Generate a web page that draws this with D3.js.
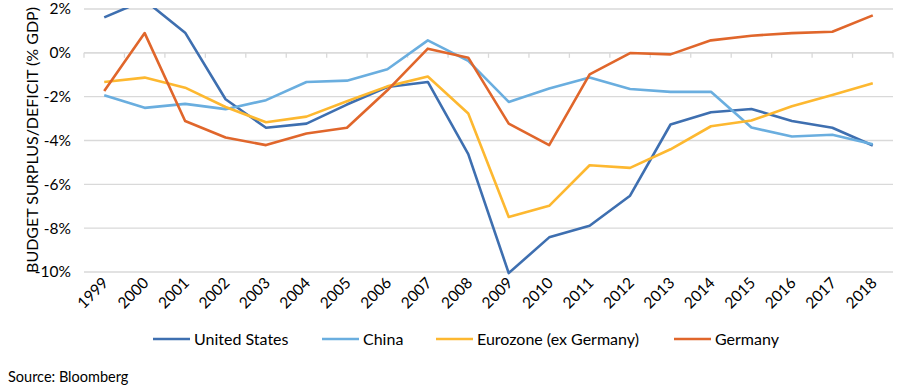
<!DOCTYPE html>
<html><head><meta charset="utf-8">
<script src="https://cdn.jsdelivr.net/npm/d3@7/dist/d3.min.js"></script>
<style>body{margin:0;background:#fff}svg{display:block}</style>
</head><body>
<svg id="c" width="900" height="392"></svg>
<script>
const years = ["1999","2000","2001","2002","2003","2004","2005","2006","2007","2008","2009","2010","2011","2012","2013","2014","2015","2016","2017","2018"];
const unitedStates = [1.62,2.4,0.92,-2.12,-3.42,-3.23,-2.36,-1.56,-1.33,-4.62,-10.05,-8.42,-7.89,-6.52,-3.27,-2.71,-2.56,-3.11,-3.42,-4.23];
const china = [-1.94,-2.51,-2.33,-2.57,-2.16,-1.33,-1.27,-0.75,0.57,-0.37,-2.24,-1.63,-1.13,-1.65,-1.78,-1.78,-3.41,-3.82,-3.74,-4.17];
const eurozone = [-1.33,-1.13,-1.59,-2.47,-3.17,-2.91,-2.21,-1.53,-1.08,-2.77,-7.49,-6.98,-5.13,-5.25,-4.40,-3.35,-3.09,-2.44,-1.92,-1.39];
const germany = [-1.74,0.90,-3.11,-3.86,-4.21,-3.68,-3.42,-1.71,0.19,-0.22,-3.23,-4.21,-0.98,-0.01,-0.07,0.57,0.78,0.90,0.96,1.71];
const yTicks = [2,0,-2,-4,-6,-8,-10];
const seriesNames = ["United States","China","Eurozone (ex Germany)","Germany"];
const seriesColors = ["#3E6FB0","#6AAEDF","#FDB830","#E0662B"];
const seriesData = [unitedStates, china, eurozone, germany];

const svg = d3.select("#c");
const font = "Lato, 'Open Sans', sans-serif";
const pLeft = 84, pRight = 893, pTop = 9, pBottom = 272;

const x = d3.scaleBand().domain(years).range([pLeft, pRight]).padding(0);
const y = d3.scaleLinear().domain([-10, 2]).range([pBottom, pTop]);

// gridlines
svg.append("g").selectAll("line").data(yTicks).join("line")
  .attr("x1", pLeft).attr("x2", pRight)
  .attr("y1", d => y(d)).attr("y2", d => y(d))
  .attr("stroke", "#d9d9d9").attr("stroke-width", 1.3);

// y labels
svg.append("g").selectAll("text").data(yTicks).join("text")
  .attr("x", 71).attr("y", d => y(d)).attr("dy", "0.35em")
  .attr("text-anchor", "end").attr("font-family", font).attr("font-size", 15.5)
  .attr("fill", "#000").text(d => d + "%");

// category axis line at 0 with ticks
const axis = svg.append("g").attr("transform", `translate(0,${y(0)})`);
axis.append("line").attr("x1", pLeft).attr("x2", pRight).attr("stroke", "#d9d9d9").attr("stroke-width", 1.3);
const bounds = years.map(d => x(d)).concat([x(years[years.length-1]) + x.bandwidth()]);
axis.selectAll("line.t").data(bounds).join("line").attr("class","t")
  .attr("x1", d => d).attr("x2", d => d).attr("y1", 0).attr("y2", 5)
  .attr("stroke", "#d9d9d9").attr("stroke-width", 1.3);

// x labels
svg.append("g").selectAll("text").data(years).join("text")
  .attr("transform", d => `translate(${x(d) + x.bandwidth()/2 + 5},${pBottom + 12}) rotate(-45)`)
  .attr("text-anchor", "end").attr("font-family", font).attr("font-size", 15.5)
  .attr("fill", "#000").text(d => d);

// clip
svg.append("clipPath").attr("id", "clip").append("rect")
  .attr("x", pLeft).attr("y", pTop - 1).attr("width", pRight - pLeft).attr("height", pBottom - pTop + 4);

const line = d3.line().x((d, i) => x(years[i]) + x.bandwidth()/2).y(d => y(d));
svg.append("g").attr("clip-path", "url(#clip)").selectAll("path").data(seriesData).join("path")
  .attr("d", d => line(d)).attr("fill", "none")
  .attr("stroke", (d, i) => seriesColors[i]).attr("stroke-width", 2.6)
  .attr("stroke-linejoin", "round");

// y title
svg.append("text").attr("transform", "translate(38,140) rotate(-90)")
  .attr("text-anchor", "middle").attr("font-family", font).attr("font-size", 16)
  .attr("fill", "#000").text("BUDGET SURPLUS/DEFICIT (% GDP)");

// legend
const legendX = [153, 322, 436, 674];
const lg = svg.append("g").selectAll("g").data(seriesNames).join("g")
  .attr("transform", (d, i) => `translate(${legendX[i]},339)`);
lg.append("line").attr("x1", 0).attr("x2", 37).attr("stroke", (d, i) => seriesColors[i]).attr("stroke-width", 2.6);
lg.append("text").attr("x", 41).attr("dy", "0.35em").attr("font-family", font).attr("font-size", 16)
  .attr("fill", "#000").text(d => d);

svg.append("text").attr("x", 8).attr("y", 382).attr("font-family", font).attr("font-size", 14.5)
  .attr("fill", "#000").text("Source: Bloomberg");
</script>
</body></html>
